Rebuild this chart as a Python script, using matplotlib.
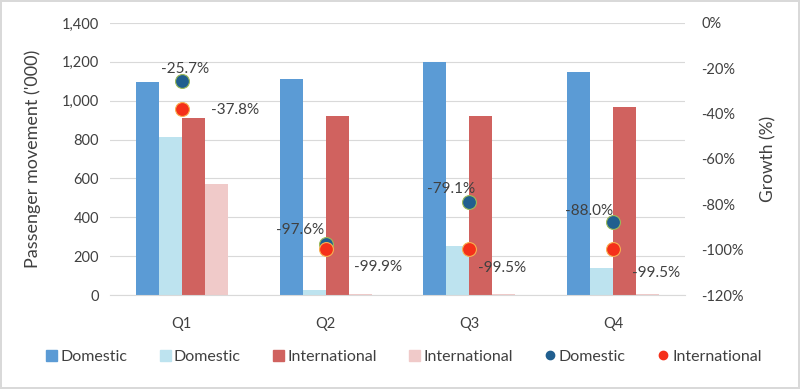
import matplotlib
matplotlib.use('Agg')
import matplotlib.pyplot as plt
import numpy as np
from matplotlib.patches import Patch
from matplotlib.lines import Line2D

plt.rcParams['font.family'] = ['Lato', 'DejaVu Sans']

quarters = ['Q1', 'Q2', 'Q3', 'Q4']
dom_2019 = [1095, 1112, 1198, 1146]
dom_2020 = [815, 27, 252, 140]
intl_2019 = [913, 923, 923, 969]
intl_2020 = [570, 5, 5, 5]
dom_growth = [-25.7, -97.6, -79.1, -88.0]
intl_growth = [-37.8, -99.9, -99.5, -99.5]

# label offsets in pixels (x, y) relative to each marker
dom_offsets = [(3, 12), (-25, 14), (-18, 13), (-24, 11)]
intl_offsets = [(53, -1), (53, -18), (33, -19), (43, -24)]

c_dom = '#5B9BD5'
c_dom2 = '#BDE3EF'
c_intl = '#D0625F'
c_intl2 = '#F0CAC9'
c_mdom = '#215F8F'
c_mintl = '#F5301A'
txt = '#404040'

fig = plt.figure(figsize=(8, 3.89), dpi=100)
fig.patch.set_edgecolor('#D9D9D9')
fig.patch.set_linewidth(1.5)
ax = fig.add_axes([0.1375, 0.2416, 0.7185, 0.6994])

x = np.arange(len(quarters))
w = 0.16
ax.bar(x - 1.5 * w, dom_2019, w, color=c_dom, zorder=2)
ax.bar(x - 0.5 * w, dom_2020, w, color=c_dom2, zorder=2)
ax.bar(x + 0.5 * w, intl_2019, w, color=c_intl, zorder=2)
ax.bar(x + 1.5 * w, intl_2020, w, color=c_intl2, zorder=2)

ax.set_xlim(-0.5, 3.5)
ax.set_ylim(0, 1400)
ax.set_yticks(range(0, 1401, 200))
ax.set_yticklabels([f'{v:,}' for v in range(0, 1401, 200)])
ax.grid(axis='y', color='#D9D9D9', linewidth=0.8, zorder=0)
ax.set_axisbelow(True)
for s in ['top', 'left', 'right']:
    ax.spines[s].set_visible(False)
ax.spines['bottom'].set_color('#D9D9D9')
ax.tick_params(length=0, labelsize=10.5, labelcolor=txt, pad=8)
ax.tick_params(axis='x', pad=16)
ax.set_xticks(x)
ax.set_xticklabels(quarters)
ax.set_ylabel("Passenger movement ('000)", fontsize=13, color=txt, labelpad=15)

ax2 = ax.twinx()
ax2.set_ylim(-120, 0)
ax2.set_yticks(range(-120, 1, 20))
ax2.set_yticklabels([f'{v}%' for v in range(-120, 1, 20)])
for s in ax2.spines.values():
    s.set_visible(False)
ax2.tick_params(length=0, labelsize=10.5, labelcolor=txt, pad=12)
ax2.set_ylabel('Growth (%)', fontsize=12.5, color=txt, labelpad=12)

ax2.plot(x, dom_growth, 'o', color=c_mdom, markersize=10,
         markeredgecolor='#9BBB59', markeredgewidth=0.8, zorder=5)
ax2.plot(x, intl_growth, 'o', color=c_mintl, markersize=10,
         markeredgecolor='#F8B050', markeredgewidth=0.8, zorder=5)

for xi, v, off in zip(x, dom_growth, dom_offsets):
    ax2.annotate(f'{v:.1f}%', (xi, v), xytext=off, textcoords='offset pixels',
                 ha='center', va='center', fontsize=11, color=txt)
for xi, v, off in zip(x, intl_growth, intl_offsets):
    ax2.annotate(f'{v:.1f}%', (xi, v), xytext=off, textcoords='offset pixels',
                 ha='center', va='center', fontsize=11, color=txt)

handles = [
    Patch(color=c_dom, label='Domestic'),
    Patch(color=c_dom2, label='Domestic'),
    Patch(color=c_intl, label='International'),
    Patch(color=c_intl2, label='International'),
    Line2D([], [], marker='o', linestyle='', color=c_mdom, markersize=6, label='Domestic'),
    Line2D([], [], marker='o', linestyle='', color=c_mintl, markersize=6, label='International'),
]
fig.legend(handles=handles, loc='center', bbox_to_anchor=(0.505, 0.083), ncol=6,
           frameon=False, fontsize=11.5, handlelength=0.7, handleheight=0.7,
           handletextpad=0.2, columnspacing=2.0, labelcolor=txt)

fig.savefig('out.png', dpi=100, edgecolor=fig.get_edgecolor())
